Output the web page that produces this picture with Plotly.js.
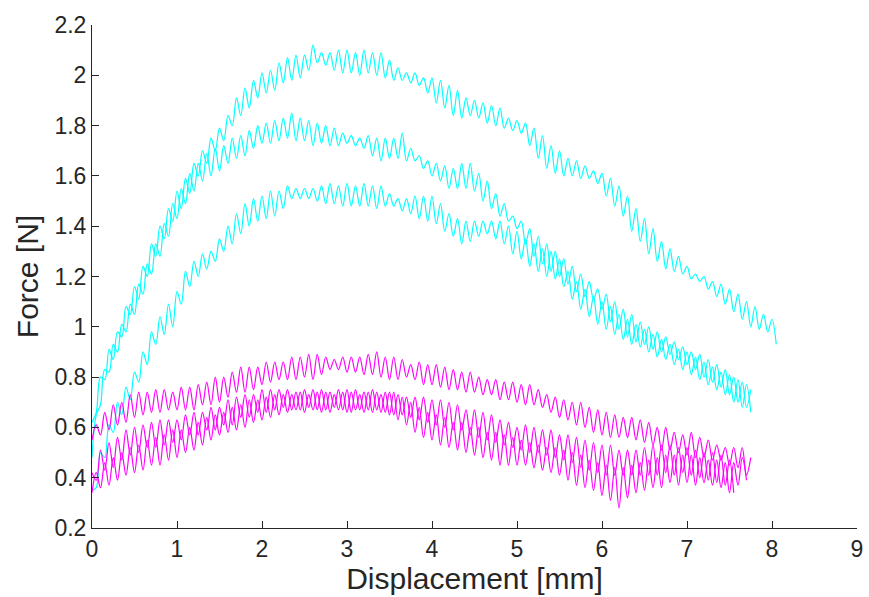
<!DOCTYPE html>
<html>
<head>
<meta charset="utf-8">
<script src="https://cdn.plot.ly/plotly-3.0.1.min.js"></script>
<style>html,body{margin:0;padding:0;background:#fff;}#chart{width:869px;height:597px;}</style>
</head>
<body>
<div id="chart"></div>
<script>
// Displacement grid [mm] shared by all six recordings
const displacement = [0,0.05,0.1,0.15,0.2,0.25,0.3,0.35,0.4,0.45,0.5,0.55,0.6,0.65,0.7,0.75,0.8,0.85,0.9,0.95,1,1.05,1.1,1.15,1.2,1.25,1.3,1.35,1.4,1.45,1.5,1.55,1.6,1.65,1.7,1.75,1.8,1.85,1.9,1.95,2,2.05,2.1,2.15,2.2,2.25,2.3,2.35,2.4,2.45,2.5,2.55,2.6,2.65,2.7,2.75,2.8,2.85,2.9,2.95,3,3.05,3.1,3.15,3.2,3.25,3.3,3.35,3.4,3.45,3.5,3.55,3.6,3.65,3.7,3.75,3.8,3.85,3.9,3.95,4,4.05,4.1,4.15,4.2,4.25,4.3,4.35,4.4,4.45,4.5,4.55,4.6,4.65,4.7,4.75,4.8,4.85,4.9,4.95,5,5.05,5.1,5.15,5.2,5.25,5.3,5.35,5.4,5.45,5.5,5.55,5.6,5.65,5.7,5.75,5.8,5.85,5.9,5.95,6,6.05,6.1,6.15,6.2,6.25,6.3,6.35,6.4,6.45,6.5,6.55,6.6,6.65,6.7,6.75,6.8,6.85,6.9,6.95,7,7.05,7.1,7.15,7.2,7.25,7.3,7.35,7.4,7.45,7.5,7.55,7.6,7.65,7.7,7.75,7.8,7.85,7.9,7.95,8,8.05];

// Cyan force curves [N]
const cyan1 = [0.62,0.66,0.80,0.79,0.91,0.87,0.98,0.96,1.08,1.05,
1.16,1.11,1.24,1.20,1.33,1.28,1.40,1.35,1.47,1.42,
1.54,1.47,1.59,1.53,1.65,1.60,1.70,1.65,1.75,1.70,
1.79,1.74,1.84,1.80,1.91,1.84,1.95,1.87,1.98,1.91,
2.01,1.93,2.02,1.94,2.05,1.97,2.07,1.98,2.08,1.99,
2.08,2.02,2.12,2.05,2.09,2.04,2.09,2.02,2.10,2.01,
2.10,2.01,2.09,2.00,2.10,2.01,2.09,2.00,2.09,1.99,
2.06,1.98,2.03,1.98,2.01,1.97,2.01,1.96,1.99,1.93,
1.99,1.89,1.98,1.87,1.96,1.84,1.94,1.83,1.91,1.84,
1.90,1.83,1.89,1.81,1.88,1.80,1.87,1.79,1.83,1.78,
1.82,1.77,1.81,1.72,1.79,1.67,1.76,1.63,1.72,1.61,
1.70,1.60,1.67,1.60,1.66,1.59,1.64,1.59,1.62,1.57,
1.61,1.52,1.59,1.48,1.56,1.44,1.52,1.38,1.47,1.34,
1.43,1.29,1.39,1.26,1.34,1.23,1.31,1.22,1.28,1.21,
1.24,1.19,1.21,1.18,1.20,1.15,1.18,1.12,1.17,1.09,
1.15,1.06,1.13,1.03,1.10,1.00,1.08,0.99,1.05,0.98,
1.03,0.93];

const cyan2 = [0.48,0.65,0.69,0.83,0.82,0.93,0.90,1.01,0.98,1.09,
1.05,1.17,1.13,1.25,1.21,1.33,1.28,1.41,1.36,1.49,
1.43,1.55,1.49,1.61,1.54,1.65,1.58,1.69,1.60,1.71,
1.62,1.72,1.65,1.75,1.67,1.76,1.68,1.78,1.71,1.80,
1.73,1.81,1.73,1.82,1.74,1.83,1.75,1.85,1.74,1.83,
1.74,1.82,1.72,1.81,1.73,1.80,1.72,1.79,1.72,1.77,
1.73,1.76,1.72,1.75,1.71,1.76,1.68,1.75,1.66,1.75,
1.67,1.75,1.67,1.77,1.66,1.71,1.66,1.68,1.63,1.66,
1.60,1.65,1.58,1.64,1.55,1.63,1.55,1.65,1.55,1.65,
1.54,1.61,1.50,1.58,1.47,1.53,1.44,1.49,1.42,1.44,
1.39,1.42,1.33,1.39,1.28,1.36,1.25,1.33,1.22,1.30,
1.20,1.27,1.17,1.24,1.14,1.21,1.12,1.18,1.11,1.15,
1.07,1.13,1.02,1.10,0.99,1.07,0.96,1.05,0.94,1.02,
0.93,1.00,0.91,0.98,0.90,0.96,0.89,0.94,0.87,0.92,
0.85,0.90,0.83,0.89,0.80,0.87,0.78,0.85,0.76,0.83,
0.73,0.80,0.70,0.78,0.68,0.75];

const cyan3 = [0.35,0.36,0.50,0.48,0.61,0.58,0.70,0.65,0.76,0.71,
0.82,0.78,0.90,0.85,0.98,0.93,1.04,0.97,1.09,1.00,
1.14,1.09,1.22,1.16,1.26,1.20,1.29,1.23,1.30,1.26,
1.35,1.30,1.40,1.33,1.45,1.37,1.49,1.40,1.51,1.42,
1.52,1.43,1.54,1.44,1.54,1.47,1.56,1.51,1.55,1.51,
1.55,1.51,1.55,1.50,1.56,1.49,1.57,1.49,1.56,1.48,
1.57,1.48,1.56,1.48,1.57,1.48,1.56,1.47,1.56,1.48,
1.53,1.48,1.51,1.46,1.51,1.45,1.52,1.43,1.52,1.42,
1.52,1.41,1.49,1.38,1.45,1.36,1.43,1.33,1.42,1.34,
1.42,1.36,1.42,1.37,1.42,1.35,1.42,1.33,1.40,1.29,
1.38,1.27,1.35,1.24,1.33,1.22,1.31,1.20,1.30,1.19,
1.27,1.16,1.22,1.11,1.18,1.07,1.15,1.04,1.12,1.01,
1.10,0.99,1.08,0.97,1.05,0.95,1.03,0.93,1.01,0.92,
0.99,0.90,0.97,0.88,0.95,0.87,0.93,0.85,0.91,0.83,
0.90,0.81,0.88,0.79,0.86,0.77,0.84,0.75,0.82,0.73,
0.81,0.70,0.79,0.68,0.77,0.66];

// Magenta force curves [N]
const magenta1 = [0.55,0.61,0.57,0.66,0.59,0.69,0.61,0.70,0.62,0.73,
0.64,0.74,0.65,0.74,0.66,0.75,0.66,0.75,0.67,0.74,
0.67,0.76,0.67,0.76,0.67,0.77,0.69,0.78,0.69,0.80,
0.70,0.80,0.72,0.82,0.74,0.84,0.74,0.84,0.75,0.84,
0.77,0.86,0.78,0.86,0.79,0.86,0.79,0.88,0.79,0.88,
0.80,0.89,0.79,0.89,0.81,0.88,0.83,0.87,0.83,0.88,
0.82,0.88,0.82,0.88,0.81,0.89,0.81,0.90,0.80,0.88,
0.79,0.88,0.79,0.87,0.80,0.85,0.79,0.86,0.77,0.85,
0.77,0.85,0.76,0.84,0.75,0.83,0.75,0.82,0.74,0.82,
0.74,0.80,0.73,0.79,0.73,0.79,0.71,0.78,0.71,0.78,
0.70,0.77,0.69,0.77,0.69,0.75,0.68,0.73,0.66,0.72,
0.64,0.71,0.63,0.70,0.61,0.70,0.60,0.68,0.58,0.67,
0.57,0.66,0.56,0.65,0.56,0.64,0.56,0.64,0.55,0.63,
0.54,0.62,0.53,0.60,0.51,0.60,0.51,0.58,0.50,0.57,
0.49,0.58,0.48,0.56,0.48,0.55,0.47,0.53,0.47,0.52,
0.45,0.52,0.44,0.52,0.41,0.48];

const magenta2 = [0.42,0.39,0.51,0.43,0.54,0.44,0.56,0.47,0.59,0.49,
0.60,0.50,0.61,0.52,0.62,0.52,0.63,0.53,0.63,0.54,
0.63,0.55,0.65,0.57,0.66,0.57,0.66,0.59,0.68,0.59,
0.68,0.61,0.71,0.61,0.72,0.64,0.73,0.64,0.73,0.66,
0.75,0.66,0.75,0.67,0.75,0.68,0.75,0.67,0.74,0.67,
0.75,0.68,0.75,0.67,0.75,0.67,0.74,0.68,0.75,0.67,
0.75,0.66,0.75,0.67,0.74,0.67,0.75,0.67,0.73,0.66,
0.74,0.65,0.73,0.65,0.72,0.64,0.72,0.63,0.72,0.62,
0.71,0.61,0.71,0.60,0.70,0.59,0.69,0.59,0.67,0.57,
0.67,0.56,0.66,0.55,0.65,0.54,0.63,0.53,0.62,0.52,
0.60,0.51,0.61,0.50,0.60,0.50,0.59,0.49,0.59,0.48,
0.57,0.47,0.57,0.46,0.56,0.44,0.55,0.43,0.54,0.42,
0.53,0.41,0.53,0.41,0.51,0.41,0.51,0.41,0.51,0.41,
0.52,0.41,0.53,0.41,0.53,0.42,0.53,0.41,0.52,0.42,
0.52,0.41,0.51,0.40,0.50,0.39,0.50,0.38,0.49,0.37,
0.47,0.34];

const magenta3 = [0.34,0.42,0.36,0.46,0.37,0.48,0.39,0.50,0.41,0.52,
0.42,0.53,0.43,0.55,0.45,0.56,0.45,0.57,0.47,0.59,
0.48,0.59,0.50,0.60,0.51,0.62,0.53,0.64,0.55,0.65,
0.57,0.66,0.58,0.68,0.59,0.69,0.60,0.71,0.62,0.71,
0.63,0.72,0.64,0.73,0.65,0.73,0.66,0.73,0.67,0.74,
0.66,0.73,0.67,0.74,0.66,0.74,0.66,0.73,0.67,0.74,
0.66,0.74,0.67,0.73,0.66,0.74,0.66,0.74,0.66,0.74,
0.65,0.74,0.63,0.72,0.61,0.70,0.58,0.68,0.56,0.66,
0.55,0.65,0.53,0.64,0.52,0.62,0.51,0.62,0.50,0.60,
0.49,0.60,0.48,0.58,0.47,0.58,0.45,0.57,0.45,0.56,
0.45,0.55,0.45,0.54,0.44,0.53,0.43,0.52,0.42,0.52,
0.41,0.51,0.39,0.50,0.37,0.49,0.36,0.47,0.35,0.46,
0.33,0.45,0.31,0.44,0.28,0.44,0.32,0.45,0.34,0.46,
0.35,0.47,0.36,0.48,0.36,0.49,0.38,0.49,0.37,0.49,
0.38,0.49,0.37,0.48,0.38,0.47,0.37,0.47,0.36,0.46,
0.34,0.46,0.37,0.48,0.39];

// Tick labels
const xTicks = [0,1,2,3,4,5,6,7,8,9];
const xTickText = ['0','1','2','3','4','5','6','7','8','9'];
const yTicks = [0.2,0.4,0.6,0.8,1,1.2,1.4,1.6,1.8,2,2.2];
const yTickText = ['0.2','0.4','0.6','0.8','1','1.2','1.4','1.6','1.8','2','2.2'];

const series = [
  {y: cyan1, color: '#00FFFF'},
  {y: cyan2, color: '#00FFFF'},
  {y: cyan3, color: '#00FFFF'},
  {y: magenta1, color: '#FF00FF'},
  {y: magenta2, color: '#FF00FF'},
  {y: magenta3, color: '#FF00FF'}
];

const traces = series.map(s => ({
  type: 'scatter',
  mode: 'lines',
  x: displacement.slice(0, s.y.length),
  y: s.y,
  line: {color: s.color, width: 1.2, shape: 'spline', smoothing: 1},
  hoverinfo: 'skip'
}));

const axisColor = '#262626';
const fontFamily = '"Liberation Sans", Arial, Helvetica, sans-serif';

const layout = {
  width: 869,
  height: 597,
  margin: {l: 92, r: 12, t: 25, b: 69},
  paper_bgcolor: '#ffffff',
  plot_bgcolor: '#ffffff',
  showlegend: false,
  font: {family: fontFamily, color: axisColor},
  xaxis: {
    range: [0, 9],
    tickmode: 'array',
    tickvals: xTicks,
    ticktext: xTickText,
    ticks: 'inside',
    ticklen: 7,
    tickwidth: 1,
    tickcolor: axisColor,
    showline: true,
    linecolor: axisColor,
    linewidth: 1,
    showgrid: false,
    zeroline: false,
    tickfont: {size: 23, color: axisColor},
    title: {text: 'Displacement [mm]', font: {size: 30, color: axisColor}, standoff: 0}
  },
  yaxis: {
    range: [0.2, 2.2],
    tickmode: 'array',
    tickvals: yTicks,
    ticktext: yTickText,
    ticks: 'inside',
    ticklen: 7,
    tickwidth: 1,
    tickcolor: axisColor,
    showline: true,
    linecolor: axisColor,
    linewidth: 1,
    showgrid: false,
    zeroline: false,
    tickfont: {size: 23, color: axisColor},
    title: {text: 'Force [N]', font: {size: 30, color: axisColor}, standoff: 6}
  }
};

Plotly.newPlot('chart', traces, layout, {displayModeBar: false, staticPlot: true});
</script>
</body>
</html>
